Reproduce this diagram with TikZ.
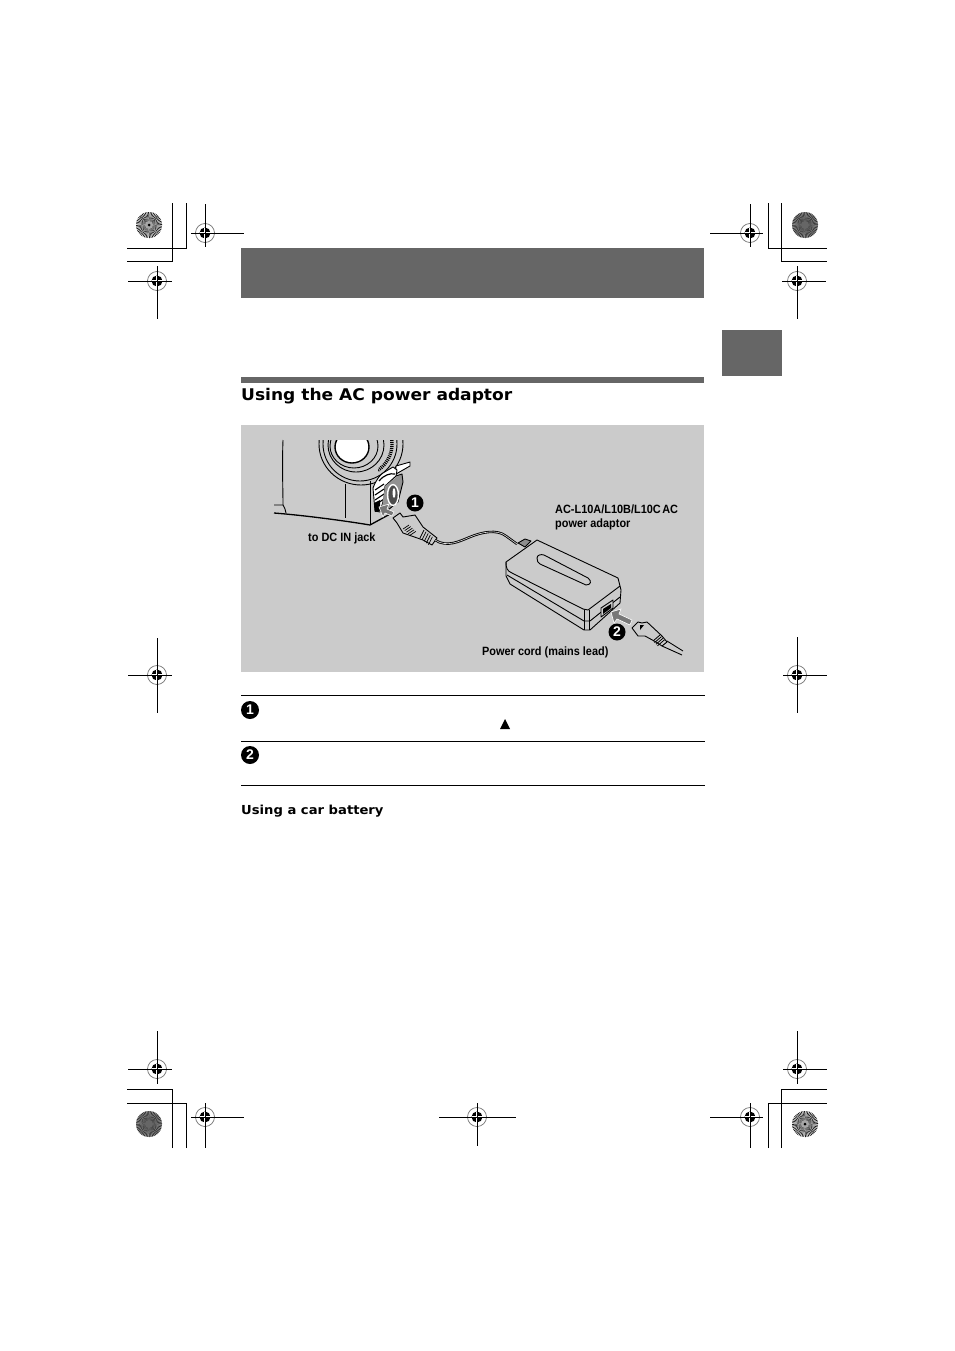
\documentclass[tikz,border=0pt]{standalone}
\usepackage{fontspec}
\newfontfamily\headfont[FakeStretch=1.06]{DejaVu Sans}
\newfontfamily\labelfont[FakeStretch=0.91]{Liberation Sans}
\newfontfamily\digitfont{Liberation Sans}
\definecolor{bargray}{HTML}{666666}
\definecolor{panelgray}{HTML}{CBCBCB}
\definecolor{arrowgray}{HTML}{777777}
\tikzset{
  numdot/.style={circle,fill=black,text=white,inner sep=0pt,minimum size=17pt,font=\digitfont\bfseries\fontsize{14}{14}\selectfont},
  partlabel/.style={anchor=base west,inner sep=0pt,font=\labelfont\bfseries\fontsize{12}{14}\selectfont},
  headlabel/.style={anchor=base west,inner sep=0pt,font=\headfont\bfseries},
  part/.style={line width=.9pt,line join=round},
  hairline/.style={line width=1pt}
}
\begin{document}
\begin{tikzpicture}[x=1pt,y=-1pt]
\useasboundingbox (0,0) rectangle (954,1351);
\fill[white] (0,0) rectangle (954,1351);
%bars and panel
\fill[bargray] (241,248) rectangle (704,298);
\fill[bargray] (722,330) rectangle (782,376);
\fill[bargray] (241,377) rectangle (704,383);
\fill[panelgray] (241,425) rectangle (704,672);
\foreach \y in {695,741,785} {\draw[hairline] (241,\y) -- (705,\y);}
%crop lines
\draw[hairline] (172,203) -- (172,261) -- (127,261);
\draw[hairline] (186,203) -- (186,248) -- (127,248);
\draw[hairline] (768,203) -- (768,248) -- (827,248);
\draw[hairline] (781,203) -- (781,261) -- (827,261);
\draw[hairline] (172,1148) -- (172,1089) -- (127,1089);
\draw[hairline] (186,1148) -- (186,1103) -- (127,1103);
\draw[hairline] (768,1148) -- (768,1103) -- (827,1103);
\draw[hairline] (781,1148) -- (781,1089) -- (827,1089);
%registration marks: x/y/left/right/up/down
\foreach \x/\y/\l/\r/\u/\d in {205/233/14/39/29/14,157/281/29/15/15/38,750/233/40/13/29/14,797/281/15/29/15/38,
  157/675/29/15/37/38,797/675/14/30/38/38,157/1069/29/15/38/15,797/1069/14/30/38/15,
  205/1117/14/39/14/31,477/1117/38/39/14/29,750/1117/40/13/14/31} {
  \draw[line width=.7pt,black!55] (\x,\y) circle (9.5);
  \fill (\x,\y) circle (5.5);
  \draw[white,line width=1.6pt] (\x-5.5,\y) -- (\x+5.5,\y) (\x,\y-5.5) -- (\x,\y+5.5);
  \draw[line width=.7pt] (\x-\l,\y) -- (\x+\r,\y);
  \draw[line width=.7pt] (\x,\y-\u) -- (\x,\y+\d);
}
%star targets
\foreach \x/\y in {149/225,805/1124} {
  \fill[white] (\x,\y) circle (13);
  \foreach \a in {0,7.5,...,353} {\fill[black!90] (\x,\y) -- (\x+13*cos \a,\y+13*sin \a) -- (\x+13*cos \a+.85*sin \a,\y+13*sin \a-.85*cos \a) -- cycle;}
  \fill[black!35] (\x,\y) circle (4);
  \fill[black] (\x,\y) circle (1.5);
}
\foreach \x/\y in {805/225,149/1124} {
  \fill[black!42] (\x,\y) circle (13);
  \foreach \a in {0,7.5,...,353} {\fill[black!85] (\x,\y) -- (\x+13*cos \a,\y+13*sin \a) -- (\x+13*cos \a+.7*sin \a,\y+13*sin \a-.7*cos \a) -- cycle;}
  \fill[black!60] (\x,\y) circle (4);
}
%camera
\begin{scope}
\clip (270,440) rectangle (420,530);
\draw[part] (361,444) ellipse (42 and 41);
\draw[part] (360,444) ellipse (37 and 37);
\begin{scope}
\clip (378,440) rectangle (410,480);
\draw[line width=3.4pt,dash pattern=on 1pt off 1pt] (359,444) ellipse (33 and 32);
\end{scope}
\draw[part] (356,445) ellipse (28 and 27);
\draw[part] (354,446) ellipse (24 and 22);
\fill[white] (352,447) ellipse (17 and 16);
\draw[line width=1.4pt] (352,447) ellipse (17 and 16);
\end{scope}
\draw[part] (283,440) .. controls (282,465) and (283,490) .. (283,505);
\draw[part] (274,505) -- (283,505) .. controls (285,507) and (285,510) .. (286,513);
\draw[line width=1.3pt] (274,513) .. controls (300,515) and (340,520) .. (370,525) -- (392,513);
\draw[part] (345,484) -- (345,518);
\draw[part] (370,481) -- (370,525);
%jack door
\fill[white,draw=black,part] (396,466) -- (410,462) -- (410,466) -- (396,474) -- cycle;
\fill[white,draw=black,part] (373,488) .. controls (376,480) and (380,475) .. (383,473) -- (393,467) -- (397,470) -- (396,476) -- (385,486) -- (384,498) -- (380,512) -- (375,511) -- cycle;
\foreach \i in {0,1,2,3} {\draw[line width=1.1pt] (375,490+5*\i) -- (384,484+5*\i);}
\draw[line width=1.2pt] (379,481) .. controls (384,475) and (390,473) .. (395,474);
\fill[black] (374,503) -- (380,500) -- (380,511) -- (375,512) -- cycle;
\fill[panelgray!72!black] (385,486) -- (398,476) -- (402,474) -- (403,482) -- (398,502) -- (388,510) -- (382,508) -- cycle;
\draw[part] (396,476) -- (402,474) -- (403,482) -- (398,502) -- (388,510);
\draw[line width=1.3pt,white] (393,495) ellipse (5.5 and 10.5);
\fill[black!70] (393,495) ellipse (4.3 and 9.2);
\fill[white] (394,493) ellipse (1.5 and 5);
%arrow one
\fill[arrowgray,draw=white,line width=.6pt] (379,507) -- (389,504) -- (387,509) -- (394,512) -- (392,516) -- (385,513) -- (383,517) -- cycle;
%plug one
\fill[panelgray,draw=black,part] (393,518) -- (400,513) -- (403,517) -- (415,515) -- (423,527) -- (437,538) -- (432,545) -- (423,540) -- (403,533) -- (397,523) -- cycle;
\foreach \i in {0,1,2,3,4} {\draw[line width=.7pt] (409+1.7*\i,525+1.6*\i) -- (403+1.7*\i,529+1.6*\i);}
\foreach \i in {0,1,2,3,4} {\draw[line width=.7pt] (424+2.1*\i,530+1.7*\i) -- (420+2.1*\i,538+1.7*\i);}
\draw[line width=2.4pt] (435,540) .. controls (447,548) and (460,541) .. (470,537) .. controls (482,532) and (497,529) .. (506,536) -- (517,544);
\draw[panelgray!60!white,line width=.6pt] (435,540) .. controls (447,548) and (460,541) .. (470,537) .. controls (482,532) and (497,529) .. (506,536) -- (517,544);
%adaptor
\fill[panelgray,draw=black,part] (506,562) -- (537,540) -- (618,578) -- (621,590) -- (620,603) -- (590,630) -- (584,630) -- (510,584) -- (506,576) -- cycle;
\fill[panelgray!70!black,draw=black,part] (518,543) -- (525,539) -- (531,541) -- (525,547) -- cycle;
\draw[part] (506,562) .. controls (506,568) and (507,571) .. (512,573) -- (583,609) -- (588,610) -- (620,586);
\draw[part] (507,575) -- (584,621) -- (590,621) -- (620,597);
\draw[part] (584,610) -- (584,630) (589,610) -- (589,630);
\draw[part] (537,558) .. controls (537,555) and (541,554) .. (544,555) -- (588,578) .. controls (592,581) and (591,585) .. (586,585) -- (540,564) .. controls (538,563) and (537,561) .. (537,558);
%socket
\fill[panelgray,draw=black,part] (601,608) -- (613,600) -- (613,608) -- (601,617) -- cycle;
\fill[black] (603,609) -- (611,604) -- (611,608) -- (603,614) -- cycle;
%arrow two
\fill[arrowgray,draw=white,line width=.6pt] (611,612) -- (621,609) -- (619,614) -- (632,620) -- (630,625) -- (617,619) -- (614,623) -- cycle;
%plug two
\fill[panelgray,draw=black,part] (632,628) -- (638,622) -- (642,623) -- (647,622) -- (662,636) -- (667,642) -- (662,646) -- (656,642) -- (645,636) -- (638,636) -- cycle;
\foreach \i in {0,1,2,3} {\draw[line width=.8pt] (660+1.5*\i,635+1.6*\i) -- (653+1.5*\i,641+1.6*\i);}
\fill (640,625) -- (644,625) -- (640,630) -- cycle;
\draw[part] (667,641) -- (683,651) (662,646) -- (682,655);
%labels
\node[headlabel,font=\headfont\bfseries\fontsize{16.1}{18}\selectfont] (adaptorhead) at (241,400) {Using the AC power adaptor};
\node[partlabel] (dcin) at (308,541) {to DC IN jack};
\node[partlabel] (adaptorone) at (555,513) {AC-L10A/L10B/L10C\hspace{1.5pt}AC};
\node[partlabel] (adaptortwo) at (555,527) {power adaptor};
\node[partlabel] (cord) at (482,655) {Power cord (mains lead)};
\node[headlabel,font=\headfont\bfseries\fontsize{12.4}{14}\selectfont] (carhead) at (241,814) {Using a car battery};
\node[numdot] (stepone) at (415,503) {1};
\node[numdot] (steptwo) at (617,632) {2};
\node[numdot,minimum size=18pt] (rowone) at (250,710) {1};
\node[numdot,minimum size=18pt] (rowtwo) at (250,755) {2};
\fill (500,729) -- (505,719) -- (510,729) -- cycle;
\end{tikzpicture}
\end{document}
